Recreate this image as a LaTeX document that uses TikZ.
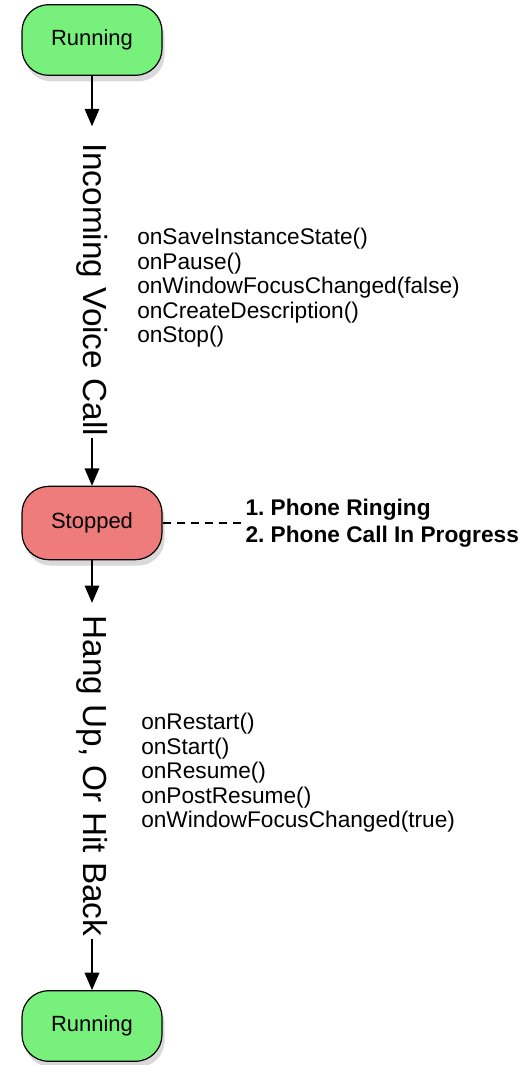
\documentclass[tikz,border=0pt]{standalone}
\usepackage{fontspec}
\setmainfont{Liberation Sans}
\usetikzlibrary{arrows.meta, positioning, shadows}

\definecolor{runfill}{RGB}{120,240,124}
\definecolor{stopfill}{RGB}{238,124,122}
\frenchspacing

\begin{document}
\begin{tikzpicture}[x=0.75pt, y=-0.75pt,
    state/.style = {draw, line width=0.9pt, rounded corners=20pt, minimum width=105pt, minimum height=53pt,
      font=\fontsize{16.5}{18}\selectfont, drop shadow={shadow xshift=2pt, shadow yshift=-4.5pt, opacity=0.3}},
    event/.style = {rotate=-90, fill=white, inner xsep=1.5pt, inner ysep=0pt, font=\fontsize{25}{28}\selectfont},
    calls/.style = {anchor=west, align=left, inner sep=0pt, font=\fontsize{17}{18.4}\selectfont},
    notes/.style = {align=left, inner sep=0pt, font=\fontsize{17}{20}\selectfont\bfseries},
    trans/.style = {line width=0.9pt, -{Triangle[length=13pt, width=11pt]}}]
    \useasboundingbox (0,0) rectangle (525,1065);

    \node[state, fill=runfill] (R1) at (92,40) {Running};
    \node[state, fill=stopfill, minimum height=55pt] (S) at (92,523) {Stopped};
    \node[state, fill=runfill] (R2) at (92,1026) {Running};

    \node[event] (call) at (92,289.5) {Incoming Voice Call};
    \node[event] (back) at (92,776) {Hang Up, Or Hit Back};

    \node[notes, right=62pt of S] (ring) {1. Phone Ringing\\2. Phone Call In Progress};
    \node[calls] (pause) at (137,288) {onSaveInstanceState()\\onPause()\\onWindowFocusChanged(false)\\onCreateDescription()\\onStop()};
    \node[calls] (resume) at (141,773) {onRestart()\\onStart()\\onResume()\\onPostResume()\\onWindowFocusChanged(true)};

    \path[trans] (R1) edge[shorten >=11pt] (call);
    \path[trans] (call) edge (S);
    \path[trans] (S) edge[shorten >=8pt] (back);
    \path[trans] (back) edge (R2);
    \path[line width=0.8pt, dash pattern=on 6pt off 4.5pt] (S) edge (ring);
  \end{tikzpicture}
\end{document}
